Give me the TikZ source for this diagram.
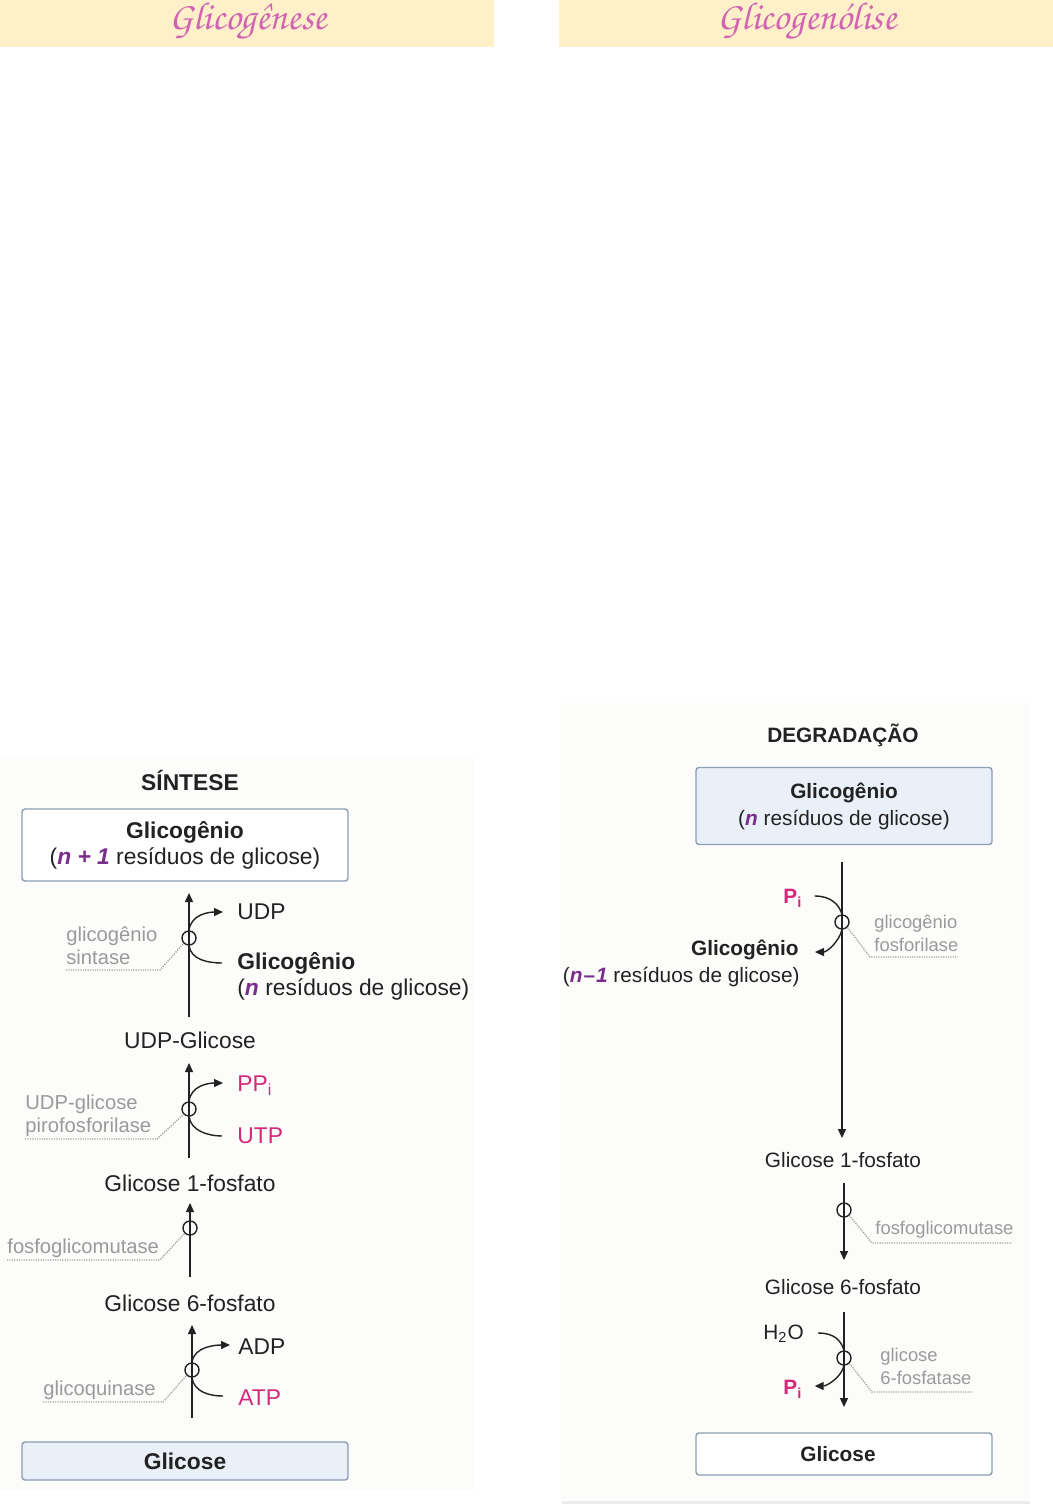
\documentclass[tikz,border=0pt]{standalone}
\usepackage{fontspec}
\setmainfont{Liberation Sans}
\newfontfamily\chorus{TeX Gyre Chorus}
\usetikzlibrary{arrows.meta}
\definecolor{cream}{HTML}{FFF0C9}
\definecolor{hdrpink}{HTML}{D064B2}
\definecolor{boxline}{HTML}{8D9DB2}
\definecolor{boxfill}{HTML}{EAF0F8}
\definecolor{ink}{HTML}{222222}
\definecolor{enzgray}{HTML}{9A9A9A}
\definecolor{dotgray}{HTML}{A5A5A5}
\definecolor{mag}{HTML}{D4287A}
\definecolor{purp}{HTML}{7A2D8A}
\definecolor{panelbg}{HTML}{FCFCFB}
\newcommand\fL{\fontsize{11.4}{13}\selectfont}
\newcommand\fLe{\fontsize{10.1}{11.5}\selectfont}
\newcommand\fR{\fontsize{10.4}{13.5}\selectfont}
\newcommand\fRe{\fontsize{9.2}{11.5}\selectfont}
\newcommand\hdrfont{\chorus\fontsize{19.5}{22}\selectfont}
\begin{document}
\begin{tikzpicture}[x=0.5pt,y=-0.5pt,
  txt/.style={inner sep=0pt, text=ink},
  enz/.style={inner sep=0pt, text=enzgray, align=left},
  hdr/.style={inner sep=0pt, text=hdrpink, font=\hdrfont},
  box/.style={draw=boxline, line width=0.7pt, rounded corners=1.5pt, inner sep=0pt, align=center, text=ink},
  arr/.style={draw=ink, line width=0.7pt, -{Triangle[length=4.5pt,width=4pt]}},
  lin/.style={draw=ink, line width=0.7pt},
  ring/.style={circle, draw=ink, line width=0.7pt, minimum size=7pt, inner sep=0pt},
  dotl/.style={draw=dotgray, line width=0.7pt, dash pattern=on 0.6pt off 0.6pt},
]
\useasboundingbox (0,0) rectangle (1053,1506);
\fill[white] (0,0) rectangle (1053,1506);
% headers
\fill[cream] (0,0) rectangle (494,47);
\fill[cream] (559,0) rectangle (1053,47);
\node[hdr] (h1) at (248,21) {Glicogênese};
\node[hdr] (h2) at (807,21) {Glicogenólise};
% panel backgrounds
\fill[panelbg] (0,757) rectangle (475,1490);
\fill[panelbg] (560,703) rectangle (1030,1500);
\draw[color=black!8, line width=1.5pt] (562,1502) -- (1030,1502);

% ================= LEFT: SINTESE =================
\node[txt, font=\bfseries\fL] (sint) at (190,780) {SÍNTESE};
\node[box, fill=white, minimum width=163pt, minimum height=36pt, font=\fL] (glyN1) at (185,845)
  {\textbf{Glicogênio}\\(\textcolor{purp}{\textbf{\textit{n + 1}}} resíduos de glicose)};

% step 1: glicogenio sintase
\coordinate (a1s) at (189,1017);
\coordinate (a1e) at (189,893);
\draw[arr] (a1s) -- (a1e);
\node[ring] (c1) at (189,938) {};
\node[txt, font=\fL, anchor=west] (udp) at (237,912) {UDP};
\node[txt, font=\bfseries\fL, anchor=west] (gnA) at (237,963) {Glicogênio};
\node[txt, font=\fL, anchor=west] (gnB) at (237,989) {(\textcolor{purp}{\textbf{\textit{n}}} resíduos de glicose)};
\draw[arr] (c1.north) .. controls +(2,-16) and +(-14,0) .. ([xshift=-7pt]udp.west);
\draw[lin] (c1.south) .. controls +(2,14) and +(-14,0) .. ([xshift=-7.5pt]gnA.west);
\node[enz, font=\fLe, anchor=west] (e1) at (66,946) {glicogênio\\sintase};
\coordinate (d1a) at (66,970);
\coordinate (d1b) at (160,970);
\draw[dotl] (d1a) -- (d1b) -- (c1.south west);

\node[txt, font=\fL] (udpg) at (190,1040) {UDP-Glicose};

% step 2: UDP-glicose pirofosforilase
\coordinate (a2s) at (189,1158);
\coordinate (a2e) at (189,1063);
\draw[arr] (a2s) -- (a2e);
\node[ring] (c5) at (189,1109) {};
\node[txt, font=\fL, anchor=west, text=mag] (ppi) at (237,1086) {PP\textsubscript{i}};
\node[txt, font=\fL, anchor=west, text=mag] (utp) at (237,1136) {UTP};
\draw[arr] (c5.north) .. controls +(2,-16) and +(-14,0) .. ([xshift=-7pt]ppi.west |- 0,1083);
\draw[lin] (c5.south) .. controls +(2,14) and +(-14,0) .. ([xshift=-7.5pt]utp.west);
\node[enz, font=\fLe, anchor=west] (e2) at (25,1116) {UDP-glicose\\pirofosforilase};
\coordinate (d2a) at (25,1139);
\coordinate (d2b) at (157,1139);
\draw[dotl] (d2a) -- (d2b) -- (c5.south west);

\node[txt, font=\fL] (g1p) at (190,1183) {Glicose 1-fosfato};

% step 3: fosfoglicomutase
\coordinate (a3s) at (190,1277);
\coordinate (a3e) at (190,1203);
\draw[arr] (a3s) -- (a3e);
\node[ring] (c6) at (190,1228) {};
\node[enz, font=\fLe, anchor=west] (e3) at (7,1248) {fosfoglicomutase};
\coordinate (d3a) at (7,1260);
\coordinate (d3b) at (160,1260);
\draw[dotl] (d3a) -- (d3b) -- (c6.south west);

\node[txt, font=\fL] (g6p) at (190,1303) {Glicose 6-fosfato};

% step 4: glicoquinase
\coordinate (a4s) at (192,1418);
\coordinate (a4e) at (192,1325);
\draw[arr] (a4s) -- (a4e);
\node[ring] (c7) at (192,1370) {};
\node[txt, font=\fL, anchor=west] (adp) at (238,1347) {ADP};
\node[txt, font=\fL, anchor=west, text=mag] (atp) at (238,1398) {ATP};
\draw[arr] (c7.north) .. controls +(2,-16) and +(-14,0) .. ([xshift=-4pt]adp.west |- 0,1345);
\draw[lin] (c7.south) .. controls +(2,14) and +(-14,0) .. ([xshift=-7.5pt]atp.west |- 0,1396);
\node[enz, font=\fLe, anchor=west] (e4) at (43,1390) {glicoquinase};
\coordinate (d4a) at (43,1402);
\coordinate (d4b) at (163,1402);
\draw[dotl] (d4a) -- (d4b) -- (c7.south west);

\node[box, fill=boxfill, minimum width=163pt, minimum height=19pt, font=\bfseries\fL] (glcL) at (185,1461) {Glicose};

% ================= RIGHT: DEGRADACAO =================
\node[txt, font=\bfseries\fR] (degr) at (843,735) {DEGRADAÇÃO};
\node[box, fill=boxfill, minimum width=148pt, minimum height=38.5pt, font=\fR] (glyN2) at (844,806)
  {\textbf{Glicogênio}\\(\textcolor{purp}{\textbf{\textit{n}}} resíduos de glicose)};

% step 1: glicogenio fosforilase
\coordinate (b1s) at (842,862);
\coordinate (b1e) at (842,1138);
\draw[arr] (b1s) -- (b1e);
\node[ring] (c2) at (842,922) {};
\node[txt, font=\bfseries\fR, anchor=west, text=mag] (pi1) at (783,898) {P\textsubscript{i}};
\node[txt, font=\bfseries\fR, anchor=east] (gmA) at (799,950) {Glicogênio};
\node[txt, font=\fR, anchor=east] (gmB) at (800,977) {(\textcolor{purp}{\textbf{\textit{n}\kern0.5pt\textendash\kern0.5pt\textit{1}}} resíduos de glicose)};
\draw[arr] ([xshift=6pt]pi1.east |- 0,896) .. controls +(16,0) and +(-3,-10) .. (c2.north)
  (c2.south) .. controls +(-3,12) and +(12,0) .. ([xshift=8pt]gmA.east |- 0,952);
\node[enz, font=\fRe, anchor=west] (e5) at (874,933) {glicogênio\\fosforilase};
\coordinate (d5a) at (870,957);
\coordinate (d5b) at (958,957);
\draw[dotl] (c2.south east) -- (d5a) -- (d5b);

\node[txt, font=\fR] (rg1p) at (843,1160) {Glicose 1-fosfato};

% step 2: fosfoglicomutase
\coordinate (b2s) at (844,1183);
\coordinate (b2e) at (844,1260);
\draw[arr] (b2s) -- (b2e);
\node[ring] (c3) at (844,1210) {};
\node[enz, font=\fRe, anchor=west] (e6) at (875,1230) {fosfoglicomutase};
\coordinate (d6a) at (872,1243);
\coordinate (d6b) at (1012,1243);
\draw[dotl] (c3.south east) -- (d6a) -- (d6b);

\node[txt, font=\fR] (rg6p) at (843,1287) {Glicose 6-fosfato};

% step 3: glicose 6-fosfatase
\coordinate (b3s) at (844,1312);
\coordinate (b3e) at (844,1407);
\draw[arr] (b3s) -- (b3e);
\node[ring] (c4) at (844,1358) {};
\node[txt, font=\fR, anchor=west] (h2o) at (763,1334) {H\textsubscript{2}O};
\node[txt, font=\bfseries\fR, anchor=west, text=mag] (pi2) at (783,1389) {P\textsubscript{i}};
\draw[arr] ([xshift=7pt]h2o.east |- 0,1333) .. controls +(16,0) and +(-3,-10) .. (c4.north)
  (c4.south) .. controls +(-3,12) and +(12,0) .. ([xshift=6pt]pi2.east |- 0,1386);
\node[enz, font=\fRe, anchor=west] (e7) at (880,1366) {glicose\\6-fosfatase};
\coordinate (d7a) at (872,1392);
\coordinate (d7b) at (973,1392);
\draw[dotl] (c4.south east) -- (d7a) -- (d7b);

\node[box, fill=white, minimum width=148pt, minimum height=21pt, font=\bfseries\fR] (glcR) at (844,1454) {\hspace*{-6pt}Glicose};
\end{tikzpicture}
\end{document}
